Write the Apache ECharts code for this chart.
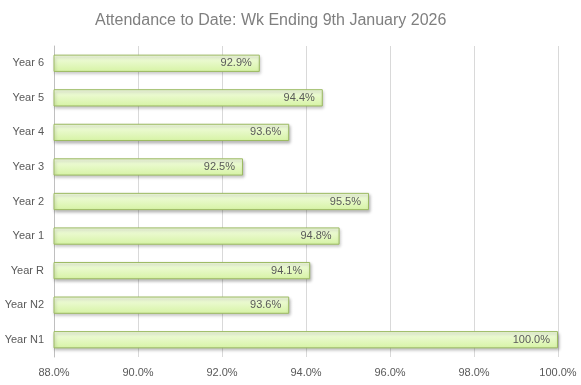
<!DOCTYPE html>
<html><head><meta charset="utf-8">
<script src="https://cdn.jsdelivr.net/npm/echarts@6/dist/echarts.min.js"></script>
<style>html,body{margin:0;padding:0;background:#fff}#c{width:581px;height:385px}</style>
</head><body><div id="c"></div>
<script>
const categories = ['Year N1','Year N2','Year R','Year 1','Year 2','Year 3','Year 4','Year 5','Year 6'];
const values = [100.0, 93.6, 94.1, 94.8, 95.5, 92.5, 93.6, 94.4, 92.9];
const tickMin = 88, tickMax = 100, tickStep = 2;
const titleText = 'Attendance to Date: Wk Ending 9th January 2026';

const chart = echarts.init(document.getElementById('c'), null, {renderer:'canvas'});
chart.setOption({
  animation:false,
  backgroundColor:'#fff',
  title:{text:titleText,left:90,top:8,textStyle:{fontFamily:'Liberation Sans',fontSize:16,fontWeight:'normal',color:'#7f7f7f'}},
  grid:{left:54,right:23,top:46,bottom:28,containLabel:false},
  xAxis:{type:'value',min:tickMin,max:tickMax,interval:tickStep,
    axisLine:{show:false},axisTick:{show:false},
    splitLine:{lineStyle:{color:'#d9d9d9'}},
    axisLabel:{formatter:v=>v.toFixed(1)+'%',color:'#595959',fontFamily:'Liberation Sans',fontSize:11,margin:10}},
  yAxis:{type:'category',data:categories,
    axisLine:{show:true,lineStyle:{color:'#bfbfbf'}},axisTick:{show:false},
    axisLabel:{color:'#595959',fontFamily:'Liberation Sans',fontSize:11,margin:10}},
  series:[{type:'bar',data:values,barWidth:'50%',
    itemStyle:{color:new echarts.graphic.LinearGradient(0,0,0,1,[{offset:0,color:'#f4fde4'},{offset:1,color:'#d6f3a4'}]),
      borderColor:'#9cba62',borderWidth:1,shadowColor:'rgba(0,0,0,0.25)',shadowBlur:3,shadowOffsetY:2,shadowOffsetX:1},
    label:{show:true,position:'insideRight',distance:8,formatter:p=>p.value.toFixed(1)+'%',color:'#595959',fontFamily:'Liberation Sans',fontSize:11}
  }]
});
</script></body></html>
